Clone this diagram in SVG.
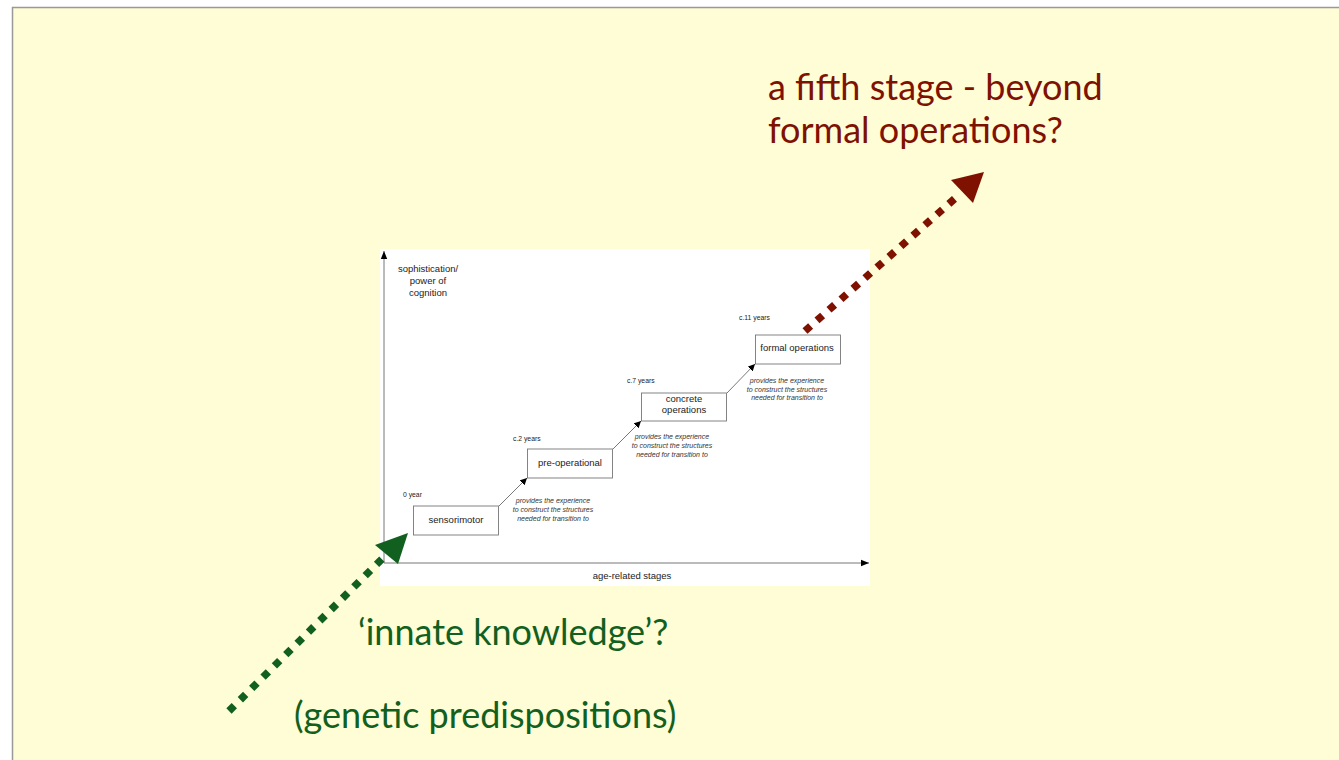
<svg xmlns="http://www.w3.org/2000/svg" width="1339" height="760" viewBox="0 0 1339 760">
<defs>
<style>
.box{fill:#fff;stroke:#777;stroke-width:0.9}
.lbl{font-family:"Liberation Sans",Arial,sans-serif;font-size:9.5px;fill:#222;text-anchor:middle}
.sm{font-family:"Liberation Sans",Arial,sans-serif;font-size:6.8px;fill:#222}
.it{font-family:"Liberation Sans",Arial,sans-serif;font-size:7px;font-style:italic;fill:#333;text-anchor:middle}
.ax{stroke:#777;stroke-width:1;fill:none}
.big{font-family:Lato,"Open Sans",sans-serif;font-size:36px}
.red{fill:#7f1100}
.grn{fill:#116020}
</style>
<marker id="ah" viewBox="0 0 10 10" refX="10" refY="5" markerWidth="7" markerHeight="7" markerUnits="userSpaceOnUse" orient="auto"><path d="M0,0 L10,5 L0,10 z" fill="#000"/></marker>
<marker id="axh" viewBox="0 0 10 10" refX="10" refY="5" markerWidth="8" markerHeight="8" markerUnits="userSpaceOnUse" orient="auto"><path d="M0,1 L10,5 L0,9 z" fill="#000"/></marker>
</defs>
<rect x="0" y="0" width="1339" height="760" fill="#fff"/>
<rect x="12.5" y="7.5" width="1340" height="760" fill="#fffdd5" stroke="#999" stroke-width="1.5"/>
<rect x="380" y="249" width="490" height="337" fill="#fff"/>

<g id="axes">
<line class="ax" x1="384" y1="563" x2="384" y2="251" marker-end="url(#axh)"/>
<line class="ax" x1="384" y1="563" x2="869" y2="563" marker-end="url(#axh)"/>
<text class="lbl" x="428" y="272">sophistication/</text>
<text class="lbl" x="428" y="284">power of</text>
<text class="lbl" x="428" y="296">cognition</text>
<text class="lbl" x="632" y="579">age-related stages</text>
</g>

<g id="connectors">
<line stroke="#555" stroke-width="0.8" x1="499" y1="506" x2="527" y2="478" marker-end="url(#ah)"/>
<line stroke="#555" stroke-width="0.8" x1="613" y1="449" x2="641" y2="421" marker-end="url(#ah)"/>
<line stroke="#555" stroke-width="0.8" x1="727" y1="393" x2="755" y2="364" marker-end="url(#ah)"/>
<g id="red-arrow">
<line x1="805" y1="331" x2="960" y2="194" stroke="#7f1100" stroke-width="7.5" stroke-dasharray="7.5 8.5"/>
<path d="M984,172 L951,180 L973,203 z" fill="#7f1100"/>
</g>
<g id="green-arrow">
<line x1="229" y1="711" x2="386" y2="555" stroke="#116020" stroke-width="7.5" stroke-dasharray="7.5 8.5"/>
<path d="M408,533 L375,545 L398,564 z" fill="#116020"/>
</g>
</g>

<g id="sensorimotor">
<rect class="box" x="413.5" y="506" width="85" height="29"/>
<text class="lbl" x="456" y="523">sensorimotor</text>
<text class="sm" x="403" y="497">0 year</text>
<text class="it" x="553" y="503">provides the experience</text>
<text class="it" x="553" y="512">to construct the structures</text>
<text class="it" x="553" y="521">needed for transition to</text>
</g>

<g id="pre-operational">
<rect class="box" x="527.5" y="449" width="85" height="29"/>
<text class="lbl" x="570" y="466">pre-operational</text>
<text class="sm" x="513" y="441">c.2 years</text>
<text class="it" x="672" y="439">provides the experience</text>
<text class="it" x="672" y="448">to construct the structures</text>
<text class="it" x="672" y="457">needed for transition to</text>
</g>

<g id="concrete-operations">
<rect class="box" x="641.5" y="393" width="85" height="28"/>
<text class="lbl" x="684" y="402">concrete</text>
<text class="lbl" x="684" y="413">operations</text>
<text class="sm" x="627" y="383">c.7 years</text>
<text class="it" x="787" y="383">provides the experience</text>
<text class="it" x="787" y="392">to construct the structures</text>
<text class="it" x="787" y="400">needed for transition to</text>
</g>

<g id="formal-operations">
<rect class="box" x="755.5" y="335" width="85" height="29"/>
<text class="lbl" x="797" y="351">formal operations</text>
<text class="sm" x="739" y="320">c.11 years</text>
</g>

<g id="fifth-stage">
<text class="big red" x="768" y="100">a fifth stage - beyond</text>
<text class="big red" x="768" y="143">formal operations?</text>
</g>

<g id="innate">
<text class="big grn" x="358" y="645">‘innate knowledge’?</text>
<text class="big grn" x="294" y="728">(genetic predispositions)</text>
</g>
</svg>
